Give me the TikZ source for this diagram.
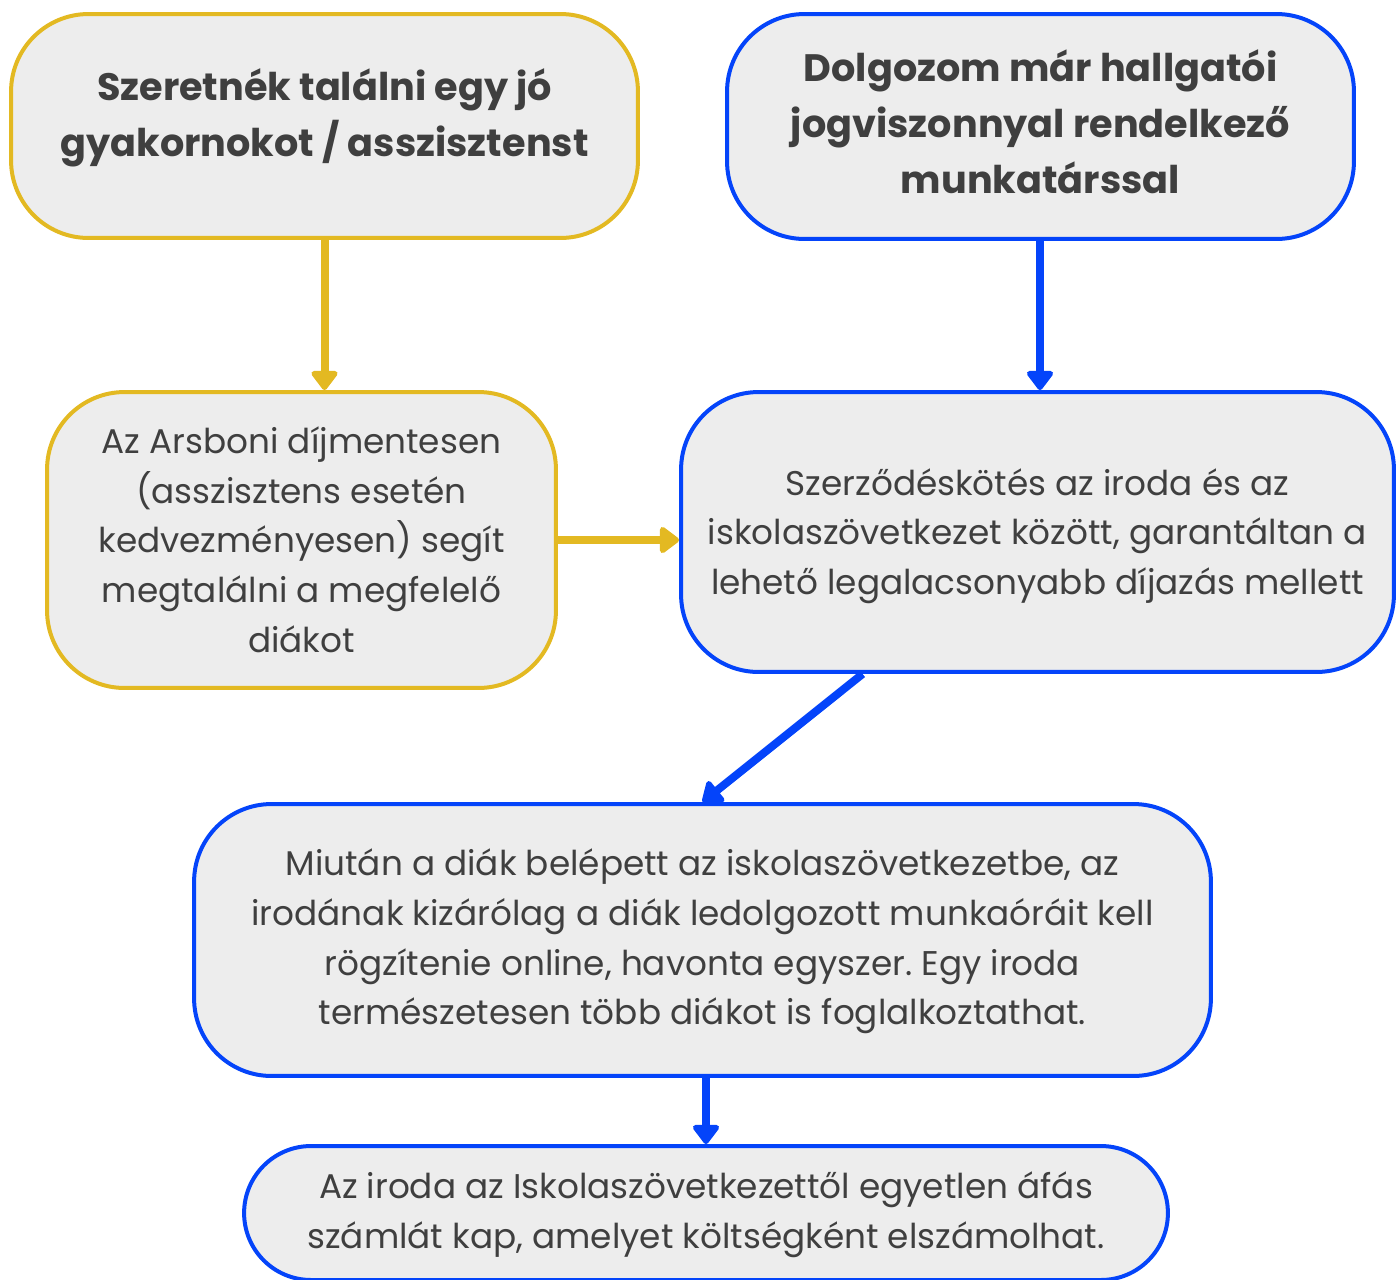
\documentclass[tikz,border=0pt]{standalone}
\usepackage{fontspec}
\setmainfont{Poppins}
\frenchspacing
\usetikzlibrary{calc}
\usetikzlibrary{arrows.meta}

\definecolor{gelb}{HTML}{E3B922}
\definecolor{kek}{HTML}{0444FA}
\definecolor{dobozszin}{HTML}{EDEDED}
\definecolor{szoveg}{HTML}{3F3F3F}

\begin{document}
\begin{tikzpicture}[x=0.02cm, y=-0.02cm,
    doboz/.style={draw, line width=0.08cm, fill=dobozszin, rounded corners=1.55cm, align=center, text=szoveg, inner sep=0pt},
    cim/.style={font=\fontsize{21.75}{31.9}\selectfont\bfseries},
    sima/.style={font=\fontsize{19.5}{28.45}\selectfont},
    nyil/.style={line width=0.16cm, -{Triangle[length=0.42cm, width=0.6cm, round]}}]
    \useasboundingbox (0, 0) rectangle (1396, 1279);
    \clip (0, 0) rectangle (1396, 1279);

    % felso sor
    \node[doboz, draw=gelb, cim, minimum width=12.54cm, minimum height=4.48cm] (gyakornok) at (324.5, 126) {\strut Szeretnék találni egy jó\\gyakornokot / asszisztenst\rule[-20pt]{0pt}{1pt}};
    \node[doboz, draw=kek, cim, minimum width=12.54cm, minimum height=4.5cm] (dolgozom) at (1040.5, 126.5) {\strut Dolgozom már hallgatói\\jogviszonnyal rendelkező\\munkatárssal\strut};

    % masodik sor
    \node[doboz, draw=gelb, sima, minimum width=10.18cm, minimum height=5.92cm] (arsboni) at (301.5, 540) {\rule{0pt}{23.3pt}Az Arsboni díjmentesen\\(asszisztens esetén\\kedvezményesen) segít\\megtalálni a megfelelő\\diákot\strut};
    \node[doboz, draw=kek, sima, minimum width=14.26cm, minimum height=5.6cm] (szerzodes) at (1037.5, 532) {\rule{0pt}{23.3pt}Szerződéskötés az iroda és az\\iskolaszövetkezet között, garantáltan a\\lehető legalacsonyabb díjazás mellett\strut};

    % also dobozok
    \node[doboz, draw=kek, sima, minimum width=20.34cm, minimum height=5.44cm] (miutan) at (702.5, 940) {\strut Miután a diák belépett az iskolaszövetkezetbe, az\\irodának kizárólag a diák ledolgozott munkaóráit kell\\rögzítenie online, havonta egyszer. Egy iroda\\természetesen több diákot is foglalkoztathat.\strut};
    \node[doboz, draw=kek, sima, rounded corners=1.34cm, minimum width=18.48cm, minimum height=2.68cm] (szamla) at (706, 1213) {\strut Az iroda az Iskolaszövetkezettől egyetlen áfás\\számlát kap, amelyet költségként elszámolhat.\strut};

    \coordinate (ferde) at ([xshift=-3.5cm]szerzodes.south);

    % nyilak
    \draw[nyil, gelb] (gyakornok.south) -- (gyakornok.south |- arsboni.north);
    \draw[nyil, gelb] (arsboni.east) -- (arsboni.east -| szerzodes.west);
    \draw[nyil, kek] ([xshift=-0.01cm]dolgozom.south) -- ([xshift=-0.01cm]dolgozom.south |- szerzodes.north);
    \draw[nyil, kek] (ferde) -- (miutan.north);
    \draw[nyil, kek] ([xshift=0.07cm]miutan.south) -- ([xshift=0.07cm]miutan.south |- szamla.north);
\end{tikzpicture}
\end{document}
